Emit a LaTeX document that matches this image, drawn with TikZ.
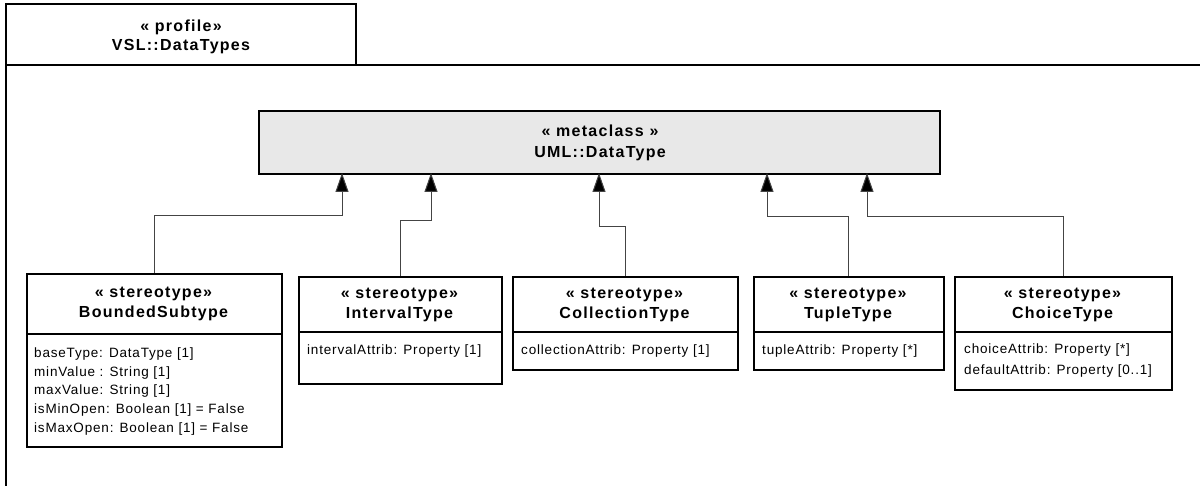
\documentclass[tikz,border=0pt]{standalone}
\usepackage{fontspec}
\setmainfont{Liberation Sans}
\newfontfamily\hdfont[LetterSpace=8]{Liberation Sans}
\newfontfamily\atfont[LetterSpace=6]{Liberation Sans}
\usetikzlibrary{arrows.meta}
\definecolor{metafill}{HTML}{E8E8E8}
\definecolor{linegray}{HTML}{444444}
\tikzset{
  box/.style={draw=black, line width=1.6pt, fill=white, inner sep=0pt, anchor=north west},
  metabox/.style={box, fill=metafill},
  hd/.style={anchor=base, inner sep=0pt, font=\hdfont\bfseries\fontsize{16}{19}\selectfont},
  attr/.style={anchor=base west, inner sep=0pt, font=\atfont\fontsize{13.5}{16}\selectfont},
  gen/.style={draw=linegray, line width=1pt, -{Triangle[length=19pt,width=13pt,fill=black]}},
  frameline/.style={draw=black, line width=1.5pt},
}
\begin{document}
\begin{tikzpicture}[x=1pt,y=1pt]
\useasboundingbox (0,0) rectangle (1200,-486);
% frame
\draw[frameline] (6,-486) -- (6,-4) -- (356,-4) -- (356,-65);
\draw[frameline] (6,-65) -- (1200,-65);
\node[hd] (ptitle1) at (181,-32) {« profile»};
\node[hd] (ptitle2) at (181,-51) {VSL::DataTypes};
% metaclass
\node[metabox, minimum width=681pt, minimum height=63pt] (meta) at (258,-110) {};
\node[hd] (meta1) at (600,-137) {« metaclass »};
\node[hd] (meta2) at (600,-158) {UML::DataType};
% BoundedSubtype
\node[box, minimum width=255pt, minimum height=173pt] (bs) at (26,-273) {};
\draw[line width=1.2pt] (26,-334) -- (281,-334);
\node[hd] (bs1) at (153.5,-298) {« stereotype»};
\node[hd] (bs2) at (153.5,-318) {BoundedSubtype};
\node[attr] (bsa1) at (34,-358) {baseType: DataType [1]};
\node[attr] (bsa2) at (34,-376.5) {minValue : String [1]};
\node[attr] (bsa3) at (34,-395) {maxValue: String [1]};
\node[attr] (bsa4) at (34,-413.5) {isMinOpen: Boolean [1] = False};
\node[attr] (bsa5) at (34,-432) {isMaxOpen: Boolean [1] = False};
% IntervalType
\node[box, minimum width=203pt, minimum height=107pt] (it) at (298,-276) {};
\draw[line width=1.2pt] (298,-332) -- (501,-332);
\node[hd] (it1) at (399.5,-299) {« stereotype»};
\node[hd] (it2) at (399.5,-319) {IntervalType};
\node[attr] (ita1) at (307,-355) {intervalAttrib: Property [1]};
% CollectionType
\node[box, minimum width=225pt, minimum height=93pt] (ct) at (512,-276) {};
\draw[line width=1.2pt] (512,-332) -- (737,-332);
\node[hd] (ct1) at (624.5,-299) {« stereotype»};
\node[hd] (ct2) at (624.5,-319) {CollectionType};
\node[attr] (cta1) at (521,-355) {collectionAttrib: Property [1]};
% TupleType
\node[box, minimum width=190pt, minimum height=93pt] (tt) at (753,-276) {};
\draw[line width=1.2pt] (753,-332) -- (943,-332);
\node[hd] (tt1) at (848,-299) {« stereotype»};
\node[hd] (tt2) at (848,-319) {TupleType};
\node[attr] (tta1) at (762,-355) {tupleAttrib: Property [*]};
% ChoiceType
\node[box, minimum width=217pt, minimum height=113pt] (ch) at (954,-276) {};
\draw[line width=1.2pt] (954,-332) -- (1171,-332);
\node[hd] (ch1) at (1062.5,-299) {« stereotype»};
\node[hd] (ch2) at (1062.5,-319) {ChoiceType};
\node[attr] (cha1) at (964,-354) {choiceAttrib: Property [*]};
\node[attr] (cha2) at (964,-374) {defaultAttrib: Property [0..1]};
% arrow targets on metaclass bottom
\coordinate (m1) at (342,-173);
\coordinate (m2) at (431,-173);
\coordinate (m3) at (599,-173);
\coordinate (m4) at (767,-173);
\coordinate (m5) at (867,-173);
% generalizations
\draw[gen] (bs.north) -- ++(0,57) -| (m1);
\draw[gen] (it.north) -- ++(0,55) -| (m2);
\draw[gen] (ct.north) -- ++(0,49) -| (m3);
\draw[gen] (tt.north) -- ++(0,59) -| (m4);
\draw[gen] (ch.north) -- ++(0,59) -| (m5);
\end{tikzpicture}
\end{document}
